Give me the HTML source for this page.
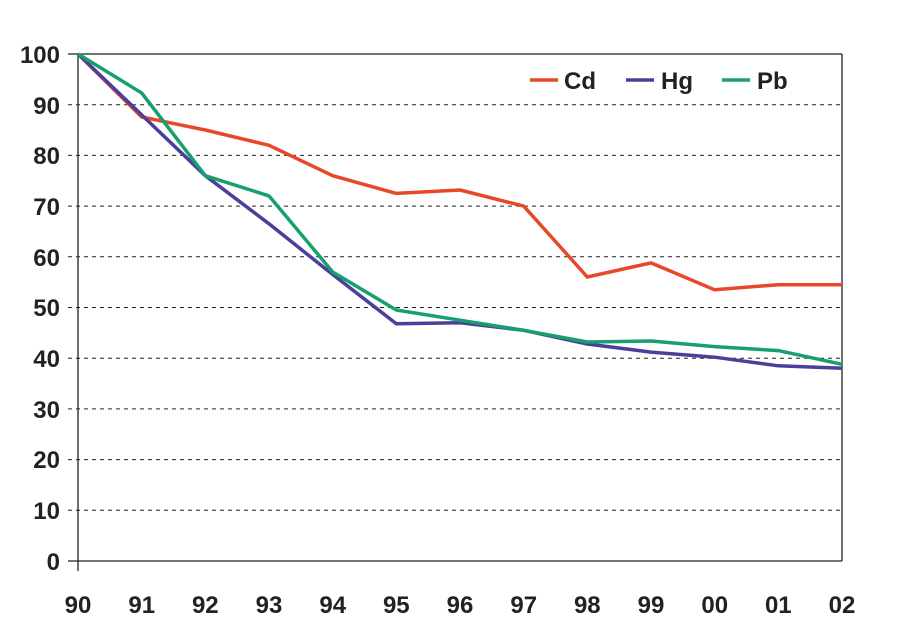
<!DOCTYPE html>
<html><head><meta charset="utf-8"><style>
html,body{margin:0;padding:0;background:#fff;}
svg{display:block;}
text{font-family:"Liberation Sans",Arial,sans-serif;font-weight:bold;fill:#222;}
</style></head><body>
<svg width="912" height="640" viewBox="0 0 912 640" xmlns="http://www.w3.org/2000/svg">
<g stroke="#222" stroke-width="1" stroke-dasharray="4,4">
<line x1="68" y1="104.7" x2="842" y2="104.7"/>
<line x1="68" y1="155.4" x2="842" y2="155.4"/>
<line x1="68" y1="206.1" x2="842" y2="206.1"/>
<line x1="68" y1="256.8" x2="842" y2="256.8"/>
<line x1="68" y1="307.5" x2="842" y2="307.5"/>
<line x1="68" y1="358.2" x2="842" y2="358.2"/>
<line x1="68" y1="408.9" x2="842" y2="408.9"/>
<line x1="68" y1="459.6" x2="842" y2="459.6"/>
<line x1="68" y1="510.3" x2="842" y2="510.3"/>
</g>
<g stroke="#222" stroke-width="1.3" fill="none">
<line x1="68" y1="54" x2="842" y2="54"/>
<line x1="842" y1="54" x2="842" y2="561"/>
<line x1="78" y1="54" x2="78" y2="571"/>
<line x1="68" y1="561" x2="842" y2="561"/>
</g>
<g font-size="24" text-anchor="end">
<text x="60" y="63">100</text><text x="60" y="114">90</text><text x="60" y="164">80</text>
<text x="60" y="215">70</text><text x="60" y="266">60</text><text x="60" y="316">50</text>
<text x="60" y="367">40</text><text x="60" y="418">30</text><text x="60" y="468">20</text>
<text x="60" y="519">10</text><text x="60" y="570">0</text>
</g>
<g font-size="24" text-anchor="middle">
<text x="78" y="613">90</text><text x="141.7" y="613">91</text><text x="205.3" y="613">92</text>
<text x="269" y="613">93</text><text x="332.7" y="613">94</text><text x="396.3" y="613">95</text>
<text x="460" y="613">96</text><text x="523.7" y="613">97</text><text x="587.3" y="613">98</text>
<text x="651" y="613">99</text><text x="714.7" y="613">00</text><text x="778.3" y="613">01</text>
<text x="842" y="613">02</text>
</g>
<g fill="none" stroke-width="3.5" stroke-linejoin="round">
<polyline stroke="#e8472a" points="78,54 141.7,117 205.3,130 269,145.3 332.7,175.7 396.3,193.4 460,190 523.7,206.1 587.3,277 651,262.9 714.7,289.8 778.3,284.7 842,284.7"/>
<polyline stroke="#4b3f9a" points="78,54 141.7,114.9 205.3,175.7 269,223.8 332.7,274.5 396.3,323.7 460,322.7 523.7,330.3 587.3,344 651,352.1 714.7,357.2 778.3,365.8 842,368.3"/>
<polyline stroke="#17a06e" points="78,54 141.7,93 205.3,175.7 269,195.9 332.7,272 396.3,310 460,320.2 523.7,330.3 587.3,342 651,341 714.7,346.6 778.3,350.6 842,364.3"/>
</g>
<g stroke-width="3.5">
<line x1="530" y1="80" x2="558" y2="80" stroke="#e8472a"/>
<line x1="626" y1="80" x2="654" y2="80" stroke="#4b3f9a"/>
<line x1="722" y1="80" x2="750" y2="80" stroke="#17a06e"/>
</g>
<g font-size="24">
<text x="564" y="89">Cd</text><text x="661" y="89">Hg</text><text x="757" y="89">Pb</text>
</g>
</svg>
</body></html>
